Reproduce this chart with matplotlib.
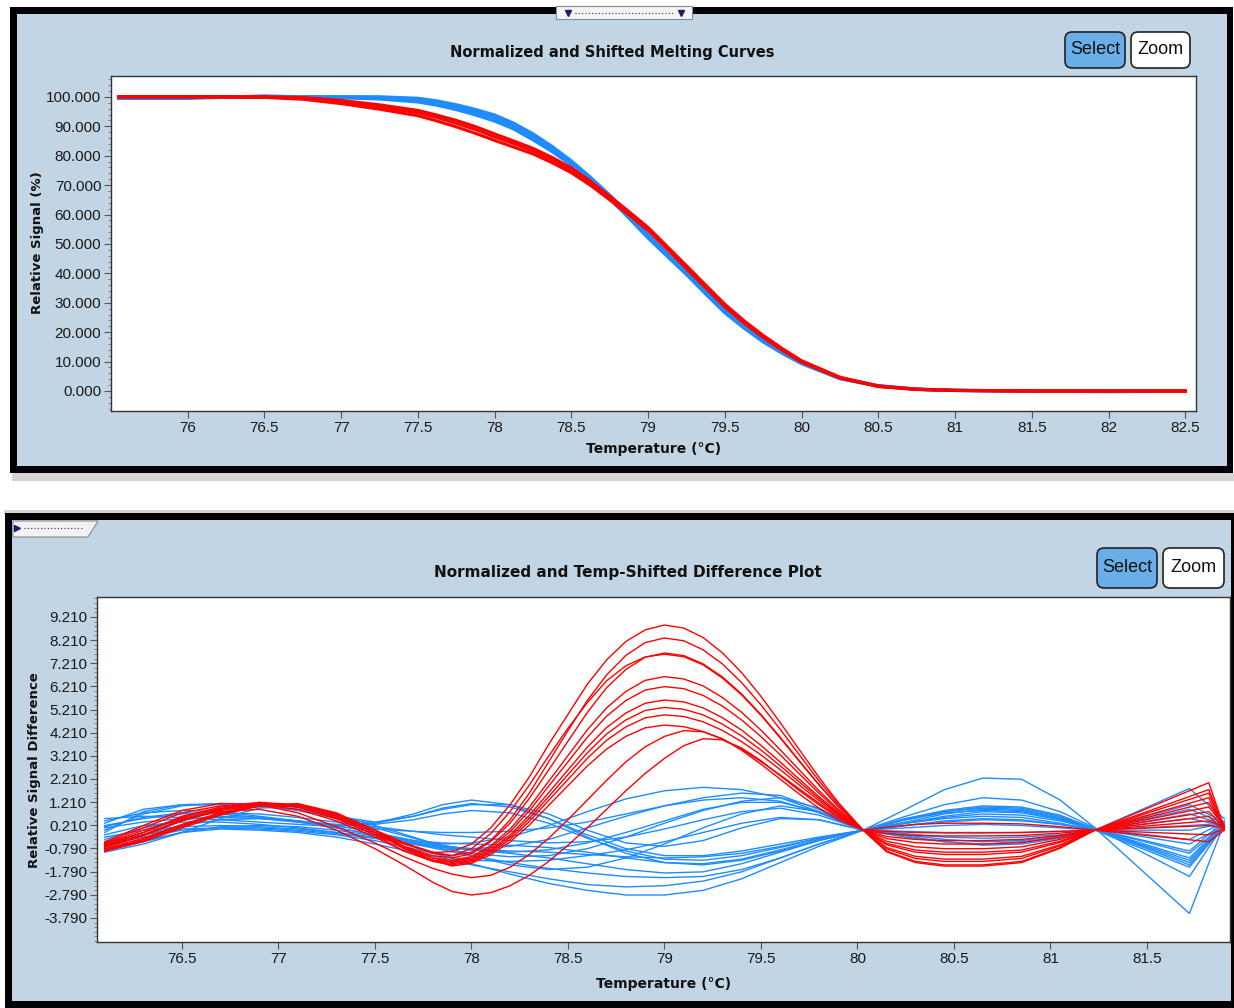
import matplotlib
matplotlib.use("Agg")
import matplotlib.pyplot as plt
from matplotlib.patches import Rectangle, FancyBboxPatch, Polygon
from matplotlib.lines import Line2D
from matplotlib.transforms import IdentityTransform
from matplotlib.ticker import FixedLocator, FixedFormatter, MultipleLocator

W, H = 1234, 1008

# ---- top panel: normalized melting curves ----
top_temp = [75.55, 76.0, 76.5, 76.75, 77.0, 77.25, 77.5,
            77.625, 77.75, 77.875, 78.0, 78.125, 78.25, 78.375, 78.5, 78.625, 78.75, 78.875,
            79.0, 79.125, 79.25, 79.375, 79.5, 79.625, 79.75, 79.875, 80.0,
            80.25, 80.5, 80.75, 81.0, 81.5, 82.0, 82.5]
top_red = [
    [100, 100, 100, 99.6, 98.3, 96.6, 94.6,
     93.0, 91.0, 88.9, 86.4, 84.1, 81.6, 78.6, 75.0, 70.6, 65.5, 60.4, 55.0, 48.6, 42.0, 35.5, 29.0, 23.4, 18.5, 14.0, 10.0,
     4.5, 1.6, 0.6, 0.2, 0.0, 0.0, 0.0],
    [100, 100, 99.8, 99.2, 97.7, 95.8, 93.6,
     91.8, 89.8, 87.6, 85.2, 82.9, 80.6, 77.6, 74.2, 69.9, 65.0, 59.9, 54.6, 48.2, 41.6, 35.1, 28.6, 23.1, 18.2, 13.8, 9.8,
     4.4, 1.5, 0.5, 0.2, 0.0, 0.0, 0.0],
    [100, 100, 100, 99.8, 98.8, 97.3, 95.4,
     93.8, 92.0, 89.9, 87.4, 85.0, 82.5, 79.4, 75.8, 71.3, 66.2, 61.0, 55.6, 49.1, 42.6, 36.0, 29.5, 23.9, 18.9, 14.4, 10.3,
     4.7, 1.7, 0.6, 0.2, 0.0, 0.0, 0.0],
]
top_blue = [
    [100, 100, 100, 100, 100, 99.8, 99.0,
     98.0, 96.6, 94.9, 92.9, 90.0, 86.5, 82.3, 77.5, 72.0, 66.0, 59.4, 52.5, 46.2, 40.0, 33.4, 27.0, 21.7, 17.0, 13.0, 9.5,
     4.3, 1.7, 0.6, 0.2, 0.0, 0.0, 0.0],
    [99.5, 99.5, 100.3, 100, 99.7, 99.3, 98.3,
     97.2, 95.7, 93.9, 91.8, 89.1, 85.4, 81.4, 76.8, 71.3, 65.3, 58.8, 52.0, 45.8, 39.6, 33.0, 26.6, 21.4, 16.7, 12.8, 9.3,
     4.2, 1.7, 0.6, 0.2, 0.0, -0.2, 0.0],
    [100, 100, 100, 100, 100, 100, 99.5,
     98.6, 97.3, 95.7, 93.8, 91.0, 87.4, 83.1, 78.2, 72.6, 66.6, 60.0, 53.1, 46.7, 40.5, 33.9, 27.4, 22.0, 17.3, 13.3, 9.7,
     4.4, 1.8, 0.6, 0.2, 0.0, 0.0, 0.0],
]
top_xticks = [76, 76.5, 77, 77.5, 78, 78.5, 79, 79.5, 80, 80.5, 81, 81.5, 82, 82.5]
top_xlabels = ['76', '76.5', '77', '77.5', '78', '78.5', '79', '79.5', '80', '80.5', '81', '81.5', '82', '82.5']
top_yticks = [0, 10, 20, 30, 40, 50, 60, 70, 80, 90, 100]

# ---- bottom panel: difference plot ----
red_temp = [76.1, 76.3, 76.5, 76.7, 76.9, 77.1, 77.3, 77.5, 77.65, 77.8,
            77.9, 78.0, 78.1, 78.2, 78.3, 78.4, 78.5, 78.6, 78.7, 78.8, 78.9, 79.0,
            79.1, 79.2, 79.3, 79.4, 79.5, 79.6, 79.7, 79.8, 79.9, 80.03,
            80.15, 80.3, 80.45, 80.65, 80.85, 81.05, 81.23, 81.82, 81.9]
blue_temp = [76.1, 76.3, 76.5, 76.7, 76.9, 77.1, 77.3, 77.5, 77.7, 77.85, 78.0, 78.2, 78.4, 78.6,
             78.8, 79.0, 79.2, 79.4, 79.6, 79.8, 80.03, 80.25, 80.45, 80.65, 80.85, 81.05, 81.23,
             81.72, 81.9]

red_diff = [
    [-0.7, -0.2, 0.4, 0.85, 1.1, 1.0, 0.55, -0.1, -0.6, -0.97,
     -0.92, -0.6, 0.1, 1.1, 2.3, 3.7, 5.0, 6.3, 7.35, 8.15, 8.65, 8.86,
     8.73, 8.32, 7.66, 6.8, 5.78, 4.64, 3.46, 2.29, 1.2, 0.0,
     -0.93, -1.4, -1.55, -1.55, -1.4, -0.78, 0.0, 2.05, 0.1],
    [-0.8, -0.35, 0.25, 0.75, 1.05, 1.05, 0.65, 0.0, -0.55, -0.95,
     -1.1, -0.95, -0.45, 0.45, 1.6, 2.95, 4.3, 5.6, 6.7, 7.55, 8.1, 8.3,
     8.18, 7.79, 7.18, 6.37, 5.41, 4.35, 3.24, 2.14, 1.12, 0.0,
     -0.9, -1.35, -1.5, -1.5, -1.35, -0.75, 0.0, 1.75, 0.15],
    [-0.6, -0.1, 0.55, 0.95, 1.15, 1.0, 0.5, -0.2, -0.7, -1.1,
     -1.2, -1.02, -0.49, 0.3, 1.37, 2.6, 3.84, 5.08, 6.15, 6.94, 7.47, 7.65,
     7.54, 7.18, 6.62, 5.88, 4.99, 4.01, 2.98, 1.97, 1.03, 0.0,
     -0.81, -1.22, -1.35, -1.35, -1.22, -0.68, 0.0, 1.6, 0.0],
    [-0.9, -0.45, 0.15, 0.7, 1.05, 1.1, 0.7, 0.0, -0.55, -1.0,
     -1.1, -0.8, -0.15, 0.8, 1.95, 3.2, 4.4, 5.5, 6.45, 7.1, 7.48, 7.6,
     7.49, 7.14, 6.57, 5.84, 4.96, 3.98, 2.96, 1.96, 1.03, 0.0,
     -0.75, -1.13, -1.25, -1.25, -1.13, -0.63, 0.0, 1.4, 0.05],
    [-0.7, -0.2, 0.45, 0.9, 1.15, 1.05, 0.6, -0.1, -0.75, -1.2,
     -1.3, -1.14, -0.67, 0.05, 1.0, 2.11, 3.22, 4.33, 5.28, 5.99, 6.47, 6.63,
     6.53, 6.23, 5.73, 5.09, 4.32, 3.47, 2.59, 1.71, 0.9, 0.0,
     -0.63, -0.95, -1.05, -1.05, -0.95, -0.53, 0.0, 1.2, 0.1],
    [-0.55, 0.1, 0.75, 1.05, 1.1, 0.9, 0.4, -0.3, -0.9, -1.3,
     -1.35, -1.2, -0.75, -0.07, 0.84, 1.9, 2.95, 4.01, 4.92, 5.6, 6.05, 6.2,
     6.11, 5.82, 5.36, 4.76, 4.04, 3.25, 2.42, 1.6, 0.84, 0.0,
     -0.57, -0.86, -0.95, -0.95, -0.86, -0.48, 0.0, 1.0, 0.2],
    [-0.85, -0.4, 0.2, 0.75, 1.1, 1.1, 0.7, 0.0, -0.7, -1.2,
     -1.4, -1.26, -0.84, -0.21, 0.64, 1.62, 2.6, 3.58, 4.43, 5.06, 5.48, 5.62,
     5.54, 5.28, 4.86, 4.32, 3.66, 2.94, 2.19, 1.45, 0.76, 0.0,
     -0.48, -0.72, -0.8, -0.8, -0.72, -0.4, 0.0, 0.8, 0.1],
    [-0.75, -0.25, 0.4, 0.9, 1.2, 1.1, 0.65, -0.1, -0.8, -1.3,
     -1.45, -1.32, -0.91, -0.3, 0.51, 1.45, 2.4, 3.34, 4.15, 4.76, 5.17, 5.3,
     5.22, 4.98, 4.58, 4.07, 3.46, 2.78, 2.07, 1.37, 0.72, 0.0,
     -0.36, -0.54, -0.6, -0.6, -0.54, -0.3, 0.0, 0.6, 0.0],
    [-0.65, -0.1, 0.6, 1.0, 1.2, 1.0, 0.5, -0.2, -0.9, -1.35,
     -1.5, -1.37, -0.98, -0.4, 0.38, 1.29, 2.19, 3.1, 3.88, 4.46, 4.85, 4.98,
     4.91, 4.68, 4.31, 3.82, 3.25, 2.61, 1.94, 1.28, 0.67, 0.0,
     -0.27, -0.4, -0.45, -0.45, -0.4, -0.23, 0.0, 0.4, 0.15],
    [-0.9, -0.5, 0.1, 0.65, 1.05, 1.15, 0.75, 0.0, -0.75, -1.3,
     -1.55, -1.43, -1.06, -0.51, 0.22, 1.07, 1.92, 2.77, 3.5, 4.05, 4.42, 4.54,
     4.47, 4.26, 3.93, 3.49, 2.96, 2.38, 1.77, 1.17, 0.61, 0.0,
     -0.15, -0.23, -0.25, -0.25, -0.23, -0.13, 0.0, 0.2, 0.1],
    [-0.6, 0.0, 0.5, 0.8, 0.9, 0.6, 0.0, -0.8, -1.5, -2.25,
     -2.65, -2.8, -2.7, -2.4, -1.95, -1.35, -0.65, 0.1, 0.9, 1.7, 2.45, 3.1,
     3.65, 3.95, 3.9, 3.55, 3.0, 2.35, 1.7, 1.1, 0.55, 0.0,
     0.12, 0.25, 0.3, 0.3, 0.27, 0.15, 0.0, -0.5, 0.0],
    [-0.5, 0.2, 0.85, 1.15, 1.1, 0.75, 0.15, -0.55, -1.15, -1.65,
     -1.9, -2.05, -1.95, -1.6, -1.05, -0.35, 0.45, 1.3, 2.15, 2.95, 3.6, 4.05,
     4.3, 4.25, 3.95, 3.45, 2.85, 2.2, 1.55, 0.95, 0.45, 0.0,
     -0.05, -0.1, -0.12, -0.12, -0.1, -0.05, 0.0, -0.2, 0.05],
]
blue_diff = [
    [-0.1, 0.8, 1.1, 1.1, 1.05, 0.85, 0.5, 0.3, 0.7, 1.1, 1.3, 1.1, 0.5, -0.3, -1.0, -1.4, -1.5, -1.3, -0.9, -0.45, 0.0, 0.9, 1.75, 2.25, 2.2, 1.3, 0.1, -3.6, 0.3],
    [0.3, 0.9, 1.1, 1.15, 1.1, 0.9, 0.6, 0.35, 0.6, 0.95, 1.15, 1.0, 0.5, -0.2, -0.8, -1.1, -1.1, -0.9, -0.6, -0.3, 0.0, 0.6, 1.1, 1.4, 1.3, 0.8, 0.1, -2.0, 0.25],
    [-0.5, -0.2, 0.05, 0.1, 0.05, -0.05, -0.2, -0.45, -0.8, -1.1, -1.45, -1.9, -2.3, -2.6, -2.8, -2.8, -2.6, -2.1, -1.4, -0.7, 0.0, 0.3, 0.6, 0.8, 0.75, 0.45, 0.05, -1.4, 0.2],
    [-0.8, -0.45, -0.1, 0.05, 0.0, -0.1, -0.3, -0.6, -0.95, -1.2, -1.5, -1.8, -2.1, -2.35, -2.45, -2.4, -2.2, -1.8, -1.2, -0.6, 0.0, 0.35, 0.7, 0.9, 0.85, 0.5, 0.05, -1.2, 0.3],
    [-0.3, 0.0, 0.15, 0.2, 0.15, 0.05, -0.1, -0.3, -0.6, -0.85, -1.1, -1.4, -1.65, -1.85, -2.0, -2.05, -2.0, -1.7, -1.2, -0.6, 0.0, 0.2, 0.35, 0.45, 0.4, 0.25, 0.05, -0.9, 0.4],
    [0.1, 0.35, 0.5, 0.55, 0.5, 0.35, 0.1, -0.2, -0.5, -0.6, -0.55, -0.3, 0.2, 0.8, 1.35, 1.7, 1.85, 1.75, 1.4, 0.8, 0.0, -0.3, -0.5, -0.6, -0.5, -0.3, 0.0, 0.9, 0.3],
    [-0.6, -0.2, 0.2, 0.45, 0.5, 0.4, 0.2, -0.1, -0.45, -0.7, -0.8, -0.7, -0.4, 0.1, 0.6, 1.05, 1.4, 1.6, 1.5, 0.9, 0.0, -0.2, -0.4, -0.5, -0.45, -0.25, 0.0, 0.5, 0.2],
    [-0.9, -0.5, -0.1, 0.15, 0.2, 0.15, 0.0, -0.25, -0.55, -0.8, -1.0, -1.15, -1.1, -0.8, -0.3, 0.3, 0.85, 1.25, 1.4, 0.95, 0.0, 0.1, 0.2, 0.25, 0.2, 0.1, 0.0, 0.2, 0.3],
    [0.0, 0.7, 1.05, 1.15, 1.15, 1.0, 0.65, 0.2, -0.3, -0.7, -1.1, -1.5, -1.7, -1.6, -1.2, -0.6, 0.1, 0.7, 1.05, 0.8, 0.0, 0.45, 0.8, 1.0, 0.95, 0.6, 0.05, -0.4, 0.35],
    [-0.2, 0.2, 0.35, 0.35, 0.25, 0.1, -0.1, -0.35, -0.6, -0.75, -0.85, -1.0, -1.2, -1.45, -1.7, -1.85, -1.8, -1.45, -0.95, -0.45, 0.0, 0.5, 0.8, 0.95, 0.9, 0.55, 0.05, -1.0, 0.25],
    [0.4, 0.75, 0.85, 0.8, 0.6, 0.4, 0.25, 0.3, 0.6, 0.9, 1.1, 1.1, 0.7, 0.0, -0.55, -0.7, -0.45, 0.1, 0.5, 0.45, 0.0, 0.3, 0.5, 0.6, 0.55, 0.3, 0.0, -1.6, 0.2],
    [-0.95, -0.6, -0.1, 0.5, 0.95, 1.05, 0.7, 0.0, -0.7, -1.1, -1.3, -1.35, -1.3, -1.1, -0.85, -0.5, -0.1, 0.3, 0.55, 0.45, 0.0, -0.25, -0.5, -0.65, -0.6, -0.35, 0.0, 1.1, 0.35],
    [0.5, 0.6, 0.55, 0.45, 0.35, 0.25, 0.15, 0.05, -0.05, -0.1, -0.1, -0.05, 0.1, 0.35, 0.7, 1.05, 1.3, 1.4, 1.25, 0.75, 0.0, -0.05, -0.1, -0.1, -0.1, -0.05, 0.0, 1.8, 0.5],
    [-0.4, 0.1, 0.45, 0.6, 0.55, 0.4, 0.1, -0.2, -0.45, -0.55, -0.6, -0.65, -0.75, -0.95, -1.2, -1.4, -1.45, -1.25, -0.85, -0.4, 0.0, 0.45, 0.75, 0.85, 0.8, 0.5, 0.05, -0.6, 0.2],
    [0.2, 0.5, 0.7, 0.75, 0.7, 0.55, 0.35, 0.15, -0.05, -0.2, -0.3, -0.45, -0.55, -0.5, -0.3, 0.05, 0.45, 0.8, 0.95, 0.65, 0.0, 0.2, 0.4, 0.5, 0.45, 0.25, 0.0, 0.0, 0.3],
    [-0.65, -0.3, 0.0, 0.1, 0.1, 0.0, -0.15, -0.35, -0.55, -0.7, -0.8, -0.9, -0.95, -1.05, -1.15, -1.2, -1.15, -1.0, -0.7, -0.35, 0.0, 0.3, 0.55, 0.7, 0.65, 0.4, 0.05, -1.3, 0.25],
    [0.15, 0.55, 0.75, 0.7, 0.55, 0.35, 0.2, 0.25, 0.45, 0.7, 0.85, 0.75, 0.3, -0.35, -0.9, -1.25, -1.3, -1.1, -0.75, -0.35, 0.0, 0.5, 0.85, 1.05, 1.0, 0.65, 0.05, -1.5, 0.15],
    [-0.7, -0.1, 0.5, 0.9, 1.0, 0.9, 0.55, 0.1, -0.35, -0.65, -0.85, -0.95, -0.85, -0.55, -0.1, 0.4, 0.9, 1.2, 1.2, 0.8, 0.0, -0.15, -0.3, -0.35, -0.3, -0.2, 0.0, 0.7, 0.25],
]
diff_xticks = [76.5, 77, 77.5, 78, 78.5, 79, 79.5, 80, 80.5, 81, 81.5]
diff_xlabels = ['76.5', '77', '77.5', '78', '78.5', '79', '79.5', '80', '80.5', '81', '81.5']
diff_yticks = [-3.79, -2.79, -1.79, -0.79, 0.21, 1.21, 2.21, 3.21, 4.21, 5.21, 6.21, 7.21, 8.21, 9.21]

PANEL = '#c1d5e5'
RED = '#ff0000'
BLUE = '#1e8cff'
TICKFONT = 'Liberation Sans'

fig = plt.figure(figsize=(W / 100, H / 100), dpi=100)
fig.patch.set_facecolor('white')


def px_rect(x0, y0, x1, y1, **kw):
    r = Rectangle((x0, H - y1), x1 - x0, y1 - y0, transform=IdentityTransform(), zorder=-5, **kw)
    fig.add_artist(r)
    return r


def px_axes(x0, y0, x1, y1):
    ax = fig.add_axes([x0 / W, 1 - y1 / H, (x1 - x0) / W, (y1 - y0) / H])
    ax.set_zorder(5)
    return ax


def button(x0, y0, x1, y1, label, face):
    b = FancyBboxPatch((x0, H - y1), x1 - x0, y1 - y0,
                       boxstyle='round,pad=0,rounding_size=7',
                       transform=IdentityTransform(), fc=face, ec='#222222', lw=1.2, zorder=2)
    fig.add_artist(b)
    fig.text((x0 + x1) / 2 / W, 1 - (y0 + y1) / 2 / H, label, ha='center', va='center',
             fontsize=13, family=TICKFONT, color='#111111', zorder=3)


def style_axes(ax):
    ax.set_facecolor('white')
    for s in ax.spines.values():
        s.set_color('#333333')
        s.set_linewidth(1.0)
    ax.tick_params(axis='both', which='major', direction='out', length=5, width=0.8,
                   colors='#555555', labelcolor='#1a1a1a', labelsize=11, pad=2)
    ax.tick_params(axis='both', which='minor', direction='out', length=2.5, width=0.6, colors='#777777')
    for lab in ax.get_xticklabels() + ax.get_yticklabels():
        lab.set_family(TICKFONT)


# ---- panel frames ----
px_rect(12, 473, 1234, 481, fc='#888888', ec='none', alpha=0.35)
px_rect(10, 7, 1233, 473, fc='black', ec='none')
px_rect(17, 14, 1227, 466, fc=PANEL, ec='none')
px_rect(556, 6, 692, 19, fc='#f4f4f4', ec='#8a8a8a', lw=0.8)
fig.add_artist(Line2D([575, 675], [H - 13, H - 13], transform=IdentityTransform(),
                      color='#2a2a8a', lw=0.8, ls=(0, (1, 2))))
fig.add_artist(Line2D([568, 681], [H - 13, H - 13], transform=IdentityTransform(),
                      color='#1c1c70', lw=0, marker='v', ms=5))

px_rect(4, 510, 1234, 514, fc='#aaaaaa', ec='none', alpha=0.5)
px_rect(5, 513, 1234, 1008, fc='black', ec='none')
px_rect(12, 520, 1231, 1001, fc=PANEL, ec='none')
tab = Polygon([(13, H - 521), (98, H - 521), (88, H - 537), (13, H - 537)], closed=True,
              transform=IdentityTransform(), fc='#f2f2f2', ec='#8a8a8a', lw=0.8)
fig.add_artist(tab)
fig.add_artist(Line2D([24, 84], [H - 528, H - 528], transform=IdentityTransform(),
                      color='#2a2a8a', lw=0.8, ls=(0, (1, 2))))
fig.add_artist(Line2D([17], [H - 528], transform=IdentityTransform(),
                      color='#1c1c70', lw=0, marker='>', ms=5))

# ---- titles and buttons ----
fig.text(612 / W, 1 - 53 / H, 'Normalized and Shifted Melting Curves', ha='center', va='center',
         fontsize=10.5, fontweight='bold', color='#111111')
fig.text(628 / W, 1 - 572 / H, 'Normalized and Temp-Shifted Difference Plot', ha='center', va='center',
         fontsize=11, fontweight='bold', color='#111111')
button(1065, 32, 1125, 68, 'Select', '#6aaee8')
button(1131, 32, 1190, 68, 'Zoom', 'white')
button(1097, 548, 1157, 588, 'Select', '#6aaee8')
button(1163, 548, 1224, 588, 'Zoom', 'white')

# ---- top chart ----
ax1 = px_axes(111, 76, 1196, 411)
for ys in top_blue:
    ax1.plot(top_temp, ys, color=BLUE, lw=2.4, solid_joinstyle='round')
for ys in top_red:
    ax1.plot(top_temp, ys, color=RED, lw=2.2, solid_joinstyle='round')
ax1.set_xlim(75.5, 82.57)
ax1.set_ylim(-6.8, 107.1)
ax1.xaxis.set_major_locator(FixedLocator(top_xticks))
ax1.xaxis.set_major_formatter(FixedFormatter(top_xlabels))
ax1.yaxis.set_major_locator(FixedLocator(top_yticks))
ax1.yaxis.set_major_formatter(FixedFormatter([f'{v:.3f}' for v in top_yticks]))
ax1.yaxis.set_minor_locator(MultipleLocator(2))
style_axes(ax1)
fig.text(654 / W, 1 - 449 / H, 'Temperature (°C)', ha='center', va='center',
         fontsize=10, fontweight='bold', color='#111111')
fig.text(38 / W, 1 - 243 / H, 'Relative Signal (%)', ha='center', va='center', rotation=90,
         fontsize=9.5, fontweight='bold', color='#111111')

# ---- bottom chart ----
ax2 = px_axes(97, 597, 1230, 942)
for ys in blue_diff:
    ax2.plot(blue_temp, ys, color=BLUE, lw=1.0)
for ys in red_diff:
    ax2.plot(red_temp, ys, color=RED, lw=1.0)
ax2.set_xlim(76.06, 81.93)
ax2.set_ylim(-4.83, 10.07)
ax2.xaxis.set_major_locator(FixedLocator(diff_xticks))
ax2.xaxis.set_major_formatter(FixedFormatter(diff_xlabels))
ax2.yaxis.set_major_locator(FixedLocator(diff_yticks))
ax2.yaxis.set_major_formatter(FixedFormatter([f'{v:.3f}' for v in diff_yticks]))
ax2.yaxis.set_minor_locator(MultipleLocator(0.2, offset=0.01))
style_axes(ax2)
fig.text(664 / W, 1 - 984 / H, 'Temperature (°C)', ha='center', va='center',
         fontsize=10, fontweight='bold', color='#111111')
fig.text(35 / W, 1 - 770 / H, 'Relative Signal Difference', ha='center', va='center', rotation=90,
         fontsize=9.5, fontweight='bold', color='#111111')

fig.savefig('out.png', dpi=100)
